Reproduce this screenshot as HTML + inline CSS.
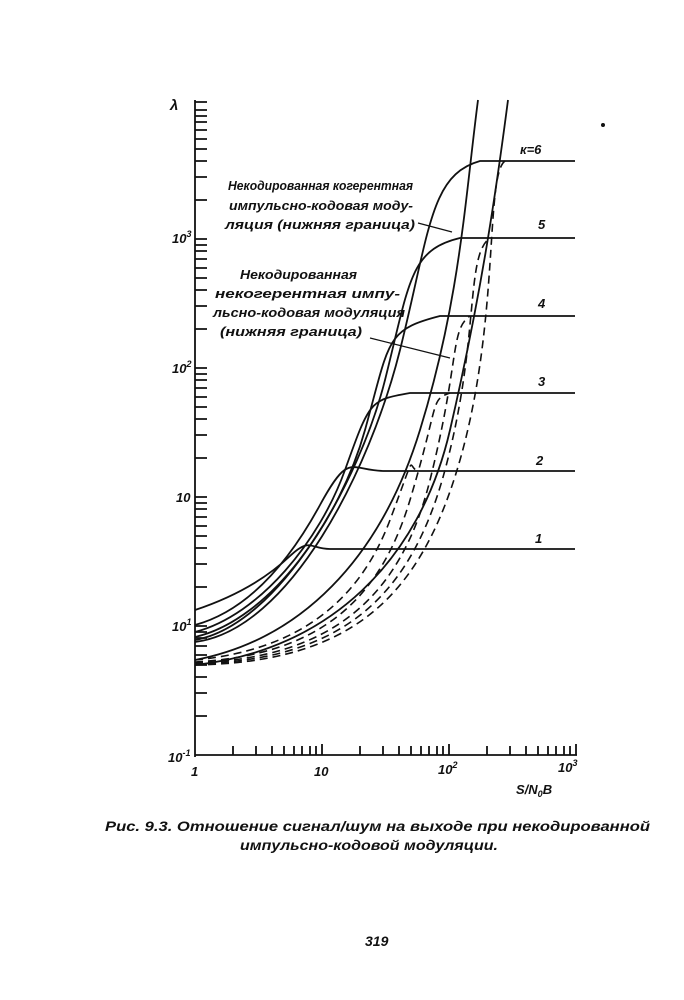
<!DOCTYPE html>
<html><head><meta charset="utf-8"><style>
body{margin:0;background:#fff}
svg{display:block}
text{font-family:"Liberation Sans",sans-serif;font-style:italic;font-weight:bold;fill:#111}
</style></head><body>
<svg width="684" height="1000" viewBox="0 0 684 1000" xmlns="http://www.w3.org/2000/svg">
<g stroke="#111" fill="none" stroke-width="1.8">
<line x1="195" y1="100" x2="195" y2="757"/>
<line x1="195" y1="755" x2="577" y2="755"/>
<path d="M195,716h12M195,693h12M195,677h12M195,665h12M195,655h12M195,646h12M195,638h12M195,632h12M195,626h12
M195,587h12M195,564h12M195,548h12M195,536h12M195,526h12M195,517h12M195,509h12M195,503h12M195,497h12
M195,458h12M195,435h12M195,419h12M195,407h12M195,397h12M195,388h12M195,380h12M195,374h12M195,368h12
M195,329h12M195,306h12M195,290h12M195,278h12M195,268h12M195,259h12M195,251h12M195,245h12M195,239h12
M195,200h12M195,177h12M195,161h12M195,149h12M195,139h12M195,130h12M195,122h12M195,116h12M195,110h12M195,102h12"/>
<path d="M233,755v-9M256,755v-9M272,755v-9M284,755v-9M294,755v-9M302,755v-9M310,755v-9M316,755v-9M322,755v-11
M360,755v-9M383,755v-9M399,755v-9M411,755v-9M421,755v-9M429,755v-9M437,755v-9M443,755v-9M449,755v-11
M487,755v-9M510,755v-9M526,755v-9M538,755v-9M548,755v-9M556,755v-9M564,755v-9M570,755v-9M576,755v-11"/>
</g>
<g stroke="#111" fill="none" stroke-width="1.8">
<path d="M195,610 C240,595 270,575 290,556 S310,549 330,549 L575,549"/>
<path d="M195,625 C250,610 290,560 320,505 S350,471 385,471 L575,471"/>
<path d="M195,632 C260,615 320,540 345,470 S370,400 410,393 L575,393"/>
<path d="M195,637 C270,620 340,520 365,430 S385,330 440,316 L575,316"/>
<path d="M195,640 C280,625 360,480 385,380 S410,250 460,238 L575,238"/>
<path d="M195,642 C290,630 370,470 400,350 S430,175 480,161 L575,161"/>
<path d="M195,660 C300,640 380,560 420,430 S465,200 478,100"/>
<path d="M195,665 C330,650 420,560 450,430 S495,200 508,100"/>
<path d="M418,223 L452,232" stroke-width="1.2"/>
<path d="M370,338 L450,358" stroke-width="1.2"/>
</g>
<g stroke="#111" fill="none" stroke-width="1.6" stroke-dasharray="8,5">
<path d="M195,660 C300,650 360,600 390,520 S405,471 420,471"/>
<path d="M195,662 C320,655 380,600 410,500 S430,400 450,393"/>
<path d="M195,663 C330,658 400,600 430,480 S450,330 470,316"/>
<path d="M195,664 C340,660 410,600 445,470 S465,255 490,238"/>
<path d="M195,665 C350,662 420,600 460,460 S485,175 505,161"/>
</g>
<g font-size="13">
<text x="170" y="110" font-size="15">λ</text>
<text x="172" y="243">10<tspan font-size="9" dy="-6">3</tspan></text>
<text x="172" y="373">10<tspan font-size="9" dy="-6">2</tspan></text>
<text x="176" y="502">10</text>
<text x="172" y="631">10<tspan font-size="9" dy="-6">1</tspan></text>
<text x="168" y="762">10<tspan font-size="9" dy="-6">-1</tspan></text>
<text x="191" y="776">1</text>
<text x="314" y="776">10</text>
<text x="438" y="774">10<tspan font-size="9" dy="-6">2</tspan></text>
<text x="558" y="772">10<tspan font-size="9" dy="-6">3</tspan></text>
<text x="516" y="794">S/N<tspan font-size="9" dy="3">0</tspan><tspan dy="-3">B</tspan></text>
<text x="520" y="154">к=6</text>
<text x="538" y="229">5</text>
<text x="538" y="308">4</text>
<text x="538" y="386">3</text>
<text x="536" y="465">2</text>
<text x="535" y="543">1</text>
<text x="228" y="190" textLength="185" lengthAdjust="spacingAndGlyphs">Некодированная когерентная</text>
<text x="229" y="210" textLength="184" lengthAdjust="spacingAndGlyphs">импульсно-кодовая моду-</text>
<text x="225" y="229" textLength="190" lengthAdjust="spacingAndGlyphs">ляция (нижняя граница)</text>
<text x="240" y="279" textLength="117" lengthAdjust="spacingAndGlyphs">Некодированная</text>
<text x="215" y="298" textLength="185" lengthAdjust="spacingAndGlyphs">некогерентная импу-</text>
<text x="213" y="317" textLength="192" lengthAdjust="spacingAndGlyphs">льсно-кодовая модуляция</text>
<text x="220" y="336" textLength="142" lengthAdjust="spacingAndGlyphs">(нижняя граница)</text>
<text x="105" y="831" font-size="14" textLength="545" lengthAdjust="spacingAndGlyphs">Рис. 9.3. Отношение сигнал/шум на выходе при некодированной</text>
<text x="240" y="850" font-size="14" textLength="258" lengthAdjust="spacingAndGlyphs">импульсно-кодовой модуляции.</text>
<text x="365" y="946" font-size="14">319</text>
</g>
<circle cx="603" cy="125" r="2" fill="#111"/>
</svg>
</body></html>
